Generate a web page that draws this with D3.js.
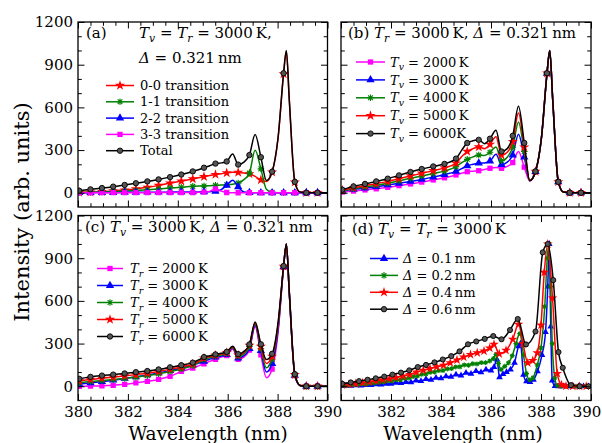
<!DOCTYPE html>
<html><head><meta charset="utf-8">
<script src="https://cdn.jsdelivr.net/npm/d3@7"></script>
<style>body{margin:0;background:#fff}svg{display:block}text{white-space:pre}</style>
</head><body>
<svg id="chart" width="602" height="443"></svg>
<script>
// ---------- data ----------
const wlGrid = [380.05, 380.5, 380.96, 381.41, 381.87, 382.32, 382.78, 383.23, 383.69, 384.14, 384.6, 384.83, 385.05, 385.28, 385.51, 385.74, 385.96, 386.2, 386.42, 386.65, 386.87, 387.1, 387.33, 387.55, 387.78, 388.02, 388.24, 388.35, 388.47, 388.69, 388.9, 389.15, 389.6, 390.0];
const markerWl = [380.05, 380.5, 380.96, 381.41, 381.87, 382.32, 382.78, 383.23, 383.69, 384.14, 384.6, 385.05, 385.51, 385.96, 386.42, 386.87, 387.33, 387.78, 388.24, 388.69, 389.15, 389.6];

// (a) transitions, Tv = Tr = 3000 K
const aTrans00 = [3, 5, 8, 13, 19, 27, 38, 52, 68, 82, 97, 105, 113, 121, 128, 134, 140, 144, 143, 139, 133, 115, 90, 80, 145, 385, 835, 995, 645, 75, 5, 0, 0, 0];
const aTrans11 = [2, 3, 5, 8, 12, 16, 21, 27, 33, 39, 45, 47, 48, 50, 52, 54, 56, 60, 68, 92, 138, 298, 168, 25, 3, 0, 0, 0, 0, 0, 0, 0, 0, 0];
const aTrans22 = [1, 1, 2, 2, 3, 3, 4, 4, 5, 5, 6, 6, 7, 8, 10, 22, 52, 88, 42, 5, 1, 0, 0, 0, 0, 0, 0, 0, 0, 0, 0, 0, 0, 0];
const aTrans33 = [0, 0, 1, 1, 1, 1, 1, 2, 2, 2, 2, 3, 4, 10, 28, 12, 2, 0, 0, 0, 0, 0, 0, 0, 0, 0, 0, 0, 0, 0, 0, 0, 0, 0];
const aTotal   = [14, 24, 33, 43, 55, 67, 80, 94, 110, 128, 150, 162, 176, 190, 205, 210, 220, 272, 198, 215, 265, 410, 250, 86, 148, 390, 840, 1000, 650, 77, 5, 0, 0, 0];

// (b) Tr = 3000 K, varying Tv
const bTv2000 = [5, 12, 20, 28, 38, 50, 62, 75, 90, 105, 125, 137, 148, 152, 155, 163, 172, 178, 172, 185, 212, 290, 180, 83, 147, 388, 838, 1000, 648, 77, 5, 0, 0, 0];
const bTv3000 = [14, 24, 33, 43, 55, 67, 80, 94, 110, 128, 150, 170, 190, 200, 208, 210, 222, 270, 198, 215, 265, 412, 250, 86, 148, 390, 840, 1000, 650, 77, 5, 0, 0, 0];
const bTv4000 = [13, 28, 41, 53, 67, 84, 102, 118, 135, 152, 183, 212, 235, 252, 265, 262, 285, 322, 225, 250, 320, 498, 290, 86, 150, 390, 840, 1000, 650, 77, 5, 0, 0, 0];
const bTv5000 = [17, 35, 50, 64, 80, 99, 118, 137, 155, 175, 208, 255, 290, 310, 322, 310, 340, 393, 265, 285, 360, 561, 320, 86, 150, 390, 840, 1000, 650, 77, 5, 0, 0, 0];
const bTv6000 = [22, 45, 62, 80, 99, 122, 146, 167, 185, 203, 240, 300, 350, 365, 372, 345, 380, 440, 290, 310, 400, 608, 350, 85, 150, 390, 840, 1000, 650, 77, 5, 0, 0, 0];

// (c) Tv = 3000 K, varying Tr
const cTr2000 = [0, 1, 3, 7, 14, 24, 35, 48, 70, 104, 128, 143, 158, 175, 190, 205, 215, 262, 190, 205, 255, 420, 220, 60, 120, 380, 838, 1000, 645, 75, 5, 0, 0, 0];
const cTr3000 = [14, 24, 33, 43, 55, 67, 80, 94, 110, 128, 150, 162, 176, 190, 205, 212, 222, 270, 198, 215, 265, 430, 250, 100, 160, 400, 840, 1000, 650, 77, 5, 0, 0, 0];
const cTr4000 = [25, 33, 40, 47, 55, 64, 75, 88, 104, 122, 145, 166, 188, 200, 212, 220, 230, 273, 210, 228, 280, 440, 265, 130, 190, 420, 842, 1000, 655, 80, 6, 0, 0, 0];
const cTr5000 = [38, 48, 56, 64, 72, 82, 92, 104, 120, 136, 156, 176, 197, 208, 218, 226, 236, 278, 218, 238, 288, 446, 280, 160, 210, 435, 843, 1000, 658, 82, 6, 0, 0, 0];
const cTr6000 = [52, 66, 75, 82, 90, 99, 107, 118, 133, 148, 166, 185, 205, 215, 224, 232, 242, 282, 226, 245, 294, 452, 295, 188, 228, 450, 845, 1000, 660, 85, 6, 0, 0, 0];

// (d) Tv = Tr = 3000 K, varying instrument width (wavelength, intensity)
const dDelta01 = [[380.0,2],[380.2,4],[380.4,3],[380.6,6],[380.8,5],[381.0,9],[381.2,8],[381.4,13],[381.6,12],[381.8,18],[382.0,17],[382.2,24],[382.4,22],[382.6,30],[382.8,28],[383.0,40],[383.2,37],[383.4,50],[383.6,46],[383.8,60],[384.0,56],[384.2,70],[384.4,66],[384.6,82],[384.8,76],[385.0,95],[385.2,88],[385.4,106],[385.6,98],[385.8,118],[386.0,110],[386.12,135],[386.24,188],[386.34,62],[386.48,85],[386.62,100],[386.78,118],[386.94,165],[387.1,280],[387.18,300],[387.3,80],[387.42,35],[387.56,30],[387.7,45],[387.86,105],[388.04,220],[388.18,380],[388.27,700],[388.33,1000],[388.39,420],[388.45,40],[388.56,2],[388.7,0],[388.9,0],[389.1,0],[389.3,0],[389.5,0],[389.7,0],[389.9,0]];
const dDelta02 = [[380.0,4],[380.17,6],[380.34,7],[380.51,10],[380.68,11],[380.85,15],[381.02,16],[381.19,21],[381.36,22],[381.53,28],[381.7,29],[381.87,36],[382.04,37],[382.21,45],[382.38,46],[382.55,55],[382.72,57],[382.89,68],[383.06,72],[383.23,84],[383.4,86],[383.57,98],[383.74,100],[383.91,110],[384.08,111],[384.25,122],[384.42,124],[384.59,136],[384.76,137],[384.93,150],[385.1,148],[385.27,158],[385.44,157],[385.61,166],[385.78,166],[385.95,178],[386.1,195],[386.2,224],[386.3,160],[386.4,118],[386.55,140],[386.7,165],[386.85,215],[387.0,300],[387.15,370],[387.3,220],[387.42,90],[387.55,45],[387.68,60],[387.85,150],[388.0,270],[388.15,560],[388.25,900],[388.31,1000],[388.38,700],[388.45,300],[388.55,60],[388.65,5],[388.8,0],[389.0,0],[389.2,0],[389.4,0],[389.6,0],[389.8,0],[390.0,0]];
const dDelta04 = [[380.05,10],[380.32,14],[380.59,19],[380.86,25],[381.13,31],[381.4,38],[381.67,45],[381.94,53],[382.21,62],[382.48,72],[382.75,83],[383.02,100],[383.29,112],[383.56,124],[383.83,136],[384.1,148],[384.37,165],[384.64,185],[384.91,205],[385.18,222],[385.45,235],[385.72,247],[385.95,268],[386.12,294],[386.33,228],[386.6,252],[386.87,330],[387.1,435],[387.28,300],[387.47,165],[387.67,180],[387.85,235],[388.0,430],[388.13,800],[388.27,1000],[388.46,620],[388.65,90],[388.82,10],[389.0,1],[389.27,0],[389.54,0],[389.81,0]];
const dDelta06 = [[380.05,18],[380.39,27],[380.72,36],[381.06,46],[381.39,56],[381.73,68],[382.06,82],[382.4,96],[382.73,112],[383.07,135],[383.4,150],[383.74,168],[384.07,188],[384.41,212],[384.74,245],[385.08,295],[385.41,315],[385.75,333],[386.09,353],[386.42,330],[386.76,395],[387.07,473],[387.4,294],[387.78,385],[388.07,941],[388.27,1000],[388.49,746],[388.7,240],[388.87,130],[389.2,8],[389.55,0],[389.9,0]];

// ticks
const xTickLabels = [380, 382, 384, 386, 388, 390];
const xMinorTicks = [380.5, 381, 381.5, 382.5, 383, 383.5, 384.5, 385, 385.5, 386.5, 387, 387.5, 388.5, 389, 389.5];
const yTickLabels = [0, 300, 600, 900, 1200];
const yMinorTicks = [100, 200, 400, 500, 700, 800, 1000, 1100];

// ---------- drawing ----------
const FONT = "'DejaVu Serif', serif";
const C = {red:'#ff0000', green:'#008000', blue:'#0000ff', mag:'#ff00ff', black:'#000000'};
const svg = d3.select('#chart');

const panels = {
  a:{x0:78, x1:327.5, y0:22, y1:207, yLab:true, xLab:false},
  b:{x0:341, x1:591, y0:22, y1:207, yLab:false, xLab:false},
  c:{x0:78, x1:327.5, y0:215.5, y1:400.5, yLab:true, xLab:true, xTitle:208},
  d:{x0:341, x1:591, y0:215.5, y1:400.5, yLab:false, xLab:true, hideFirst:true, xTitle:463}
};

function drawMarker(g, type, cx, cy, color, s) {
  s = s || 1;
  if (type === 'circle') {
    g.append('circle').attr('cx',cx).attr('cy',cy).attr('r',2.7*s).attr('fill','#555').attr('stroke','#000').attr('stroke-width',0.9);
  } else if (type === 'asterisk') {
    const r = 3.3*s;
    const p = d3.path();
    p.moveTo(cx-r,cy); p.lineTo(cx+r,cy);
    p.moveTo(cx,cy-r); p.lineTo(cx,cy+r);
    const q = r*0.72;
    p.moveTo(cx-q,cy-q); p.lineTo(cx+q,cy+q);
    p.moveTo(cx-q,cy+q); p.lineTo(cx+q,cy-q);
    g.append('path').attr('d',p.toString()).attr('stroke',color).attr('stroke-width',1.1).attr('fill','none');
  } else {
    const sym = {star:d3.symbolStar, triangle:d3.symbolTriangle, square:d3.symbolSquare}[type];
    const size = {star:32, triangle:30, square:28}[type]*s*s;
    g.append('path').attr('d', d3.symbol(sym, size)()).attr('transform',`translate(${cx},${cy})`).attr('fill',color);
  }
}

function richText(g, x, y, parts, size) {
  const t = g.append('text').attr('x',x).attr('y',y).attr('font-family',FONT).attr('font-size',size).attr('fill','#000');
  let shift = 0;
  parts.forEach(([s, st]) => {
    const ts = t.append('tspan').text(s);
    const target = st === 'sub' ? size*0.28 : 0;
    if (target !== shift) { ts.attr('dy', target - shift); shift = target; }
    if (st === 'i' || st === 'sub') ts.attr('font-style','italic');
    if (st === 'sub') ts.attr('font-size', size*0.72);
  });
  return t;
}

function drawPanel(key, seriesList, legend, titles) {
  const p = panels[key];
  const x = d3.scaleLinear().domain([380,390]).range([p.x0, p.x1]);
  const y = d3.scaleLinear().domain([-100,1200]).range([p.y1, p.y0]);
  const g = svg.append('g');
  const clipId = 'clip-' + key;
  g.append('clipPath').attr('id',clipId).append('rect')
    .attr('x',p.x0).attr('y',p.y0).attr('width',p.x1-p.x0).attr('height',p.y1-p.y0);

  const body = g.append('g').attr('clip-path',`url(#${clipId})`);
  const line = d3.line().x(d=>x(d[0])).y(d=>y(d[1])).curve(d3.curveMonotoneX);
  seriesList.forEach(s => {
    body.append('path').datum(s.pts).attr('d',line).attr('fill','none')
      .attr('stroke',s.color).attr('stroke-width',1.5).attr('stroke-linejoin','round');
    const mg = body.append('g');
    s.pts.filter(s.isMarker).forEach(d => drawMarker(mg, s.marker, x(d[0]), y(d[1]), s.color, s.ms));
  });

  // ticks on four sides
  const fmtX = d => (p.xLab && !(p.hideFirst && d === 380)) ? d : '';
  const fmtY = d => p.yLab ? d : '';
  const axes = [
    [d3.axisBottom(x).tickValues(xTickLabels).tickSize(-6.5).tickPadding(6).tickFormat(fmtX), `translate(0,${p.y1})`, 'xb'],
    [d3.axisBottom(x).tickValues(xMinorTicks).tickSize(-3.8).tickFormat(''), `translate(0,${p.y1})`],
    [d3.axisTop(x).tickValues(xTickLabels).tickSize(-6.5).tickFormat(''), `translate(0,${p.y0})`],
    [d3.axisTop(x).tickValues(xMinorTicks).tickSize(-3.8).tickFormat(''), `translate(0,${p.y0})`],
    [d3.axisLeft(y).tickValues(yTickLabels).tickSize(-6.5).tickPadding(5).tickFormat(fmtY), `translate(${p.x0},0)`],
    [d3.axisLeft(y).tickValues(yMinorTicks).tickSize(-3.8).tickFormat(''), `translate(${p.x0},0)`],
    [d3.axisRight(y).tickValues(yTickLabels).tickSize(-6.5).tickFormat(''), `translate(${p.x1},0)`],
    [d3.axisRight(y).tickValues(yMinorTicks).tickSize(-3.8).tickFormat(''), `translate(${p.x1},0)`]
  ];
  axes.forEach(([ax, tr, role]) => {
    const ag = g.append('g').attr('transform',tr).call(ax);
    ag.select('.domain').remove();
    ag.selectAll('line').attr('stroke','#000').attr('stroke-width',1);
    ag.selectAll('text').attr('font-family',FONT).attr('font-size',15).attr('fill','#000');
    if (role === 'xb' && key === 'd') {
      // keep the last label inside the picture
      ag.selectAll('.tick text').filter(d => d === 390).attr('dx', -4.5);
    }
  });
  g.append('rect').attr('x',p.x0).attr('y',p.y0).attr('width',p.x1-p.x0).attr('height',p.y1-p.y0)
    .attr('fill','none').attr('stroke','#000').attr('stroke-width',1.3);

  if (p.xTitle) {
    g.append('text').attr('font-family',FONT).attr('font-size',18.5).attr('text-anchor','middle')
      .attr('x',p.xTitle).attr('y',440).text('Wavelength (nm)');
  }

  // legend
  legend.rows.forEach((r, i) => {
    const cy = legend.y + i*legend.dy;
    const s = seriesList.find(q => q.id === r.id);
    g.append('line').attr('x1',legend.lx1).attr('x2',legend.lx2).attr('y1',cy).attr('y2',cy)
      .attr('stroke',s.color).attr('stroke-width',1.5);
    drawMarker(g, s.marker, (legend.lx1+legend.lx2)/2, cy, s.color, 1);
    richText(g, legend.tx, cy+4.6, r.text, 13);
  });
  titles.forEach(t => richText(g, t.x, t.y, t.parts, 15));
}

const onGrid = v => wlGrid.map((w,i) => [w, v[i]]);
const gridMarker = d => markerWl.includes(d[0]);
const allMarker = () => true;

// (a)
drawPanel('a', [
  {id:'00', pts:onGrid(aTrans00), color:C.red, marker:'star', isMarker:gridMarker},
  {id:'11', pts:onGrid(aTrans11), color:C.green, marker:'asterisk', isMarker:gridMarker},
  {id:'22', pts:onGrid(aTrans22), color:C.blue, marker:'triangle', isMarker:gridMarker},
  {id:'33', pts:onGrid(aTrans33), color:C.mag, marker:'square', isMarker:gridMarker},
  {id:'tot', pts:onGrid(aTotal), color:C.black, marker:'circle', isMarker:gridMarker}
], {y:85.5, dy:16.3, lx1:106, lx2:134, tx:140, rows:[
  {id:'00', text:[['0-0 transition','r']]},
  {id:'11', text:[['1-1 transition','r']]},
  {id:'22', text:[['2-2 transition','r']]},
  {id:'33', text:[['3-3 transition','r']]},
  {id:'tot', text:[['Total','r']]}
]}, [
  {x:86, y:38, parts:[['(a)','r']]},
  {x:139, y:38, parts:[['T','i'],['v','sub'],[' = ','r'],['T','i'],['r','sub'],[' = 3000\u2009K,','r']]},
  {x:139, y:62.5, parts:[['\u0394','i'],[' = 0.321\u2009nm','r']]}
]);

// (b)
drawPanel('b', [
  {id:'2', pts:onGrid(bTv2000), color:C.mag, marker:'square', isMarker:gridMarker},
  {id:'3', pts:onGrid(bTv3000), color:C.blue, marker:'triangle', isMarker:gridMarker},
  {id:'4', pts:onGrid(bTv4000), color:C.green, marker:'asterisk', isMarker:gridMarker},
  {id:'5', pts:onGrid(bTv5000), color:C.red, marker:'star', isMarker:gridMarker},
  {id:'6', pts:onGrid(bTv6000), color:C.black, marker:'circle', isMarker:gridMarker}
], {y:62, dy:17.9, lx1:356, lx2:385, tx:390, rows:[
  {id:'2', text:[['T','i'],['v','sub'],[' = 2000\u2009K','r']]},
  {id:'3', text:[['T','i'],['v','sub'],[' = 3000\u2009K','r']]},
  {id:'4', text:[['T','i'],['v','sub'],[' = 4000\u2009K','r']]},
  {id:'5', text:[['T','i'],['v','sub'],[' = 5000\u2009K','r']]},
  {id:'6', text:[['T','i'],['v','sub'],[' = 6000K','r']]}
]}, [
  {x:348, y:38, parts:[['(b) ','r'],['T','i'],['r','sub'],[' = 3000\u2009K, ','r'],['\u0394','i'],[' = 0.321\u2009nm','r']]}
]);

// (c)
drawPanel('c', [
  {id:'2', pts:onGrid(cTr2000), color:C.mag, marker:'square', isMarker:gridMarker},
  {id:'3', pts:onGrid(cTr3000), color:C.blue, marker:'triangle', isMarker:gridMarker},
  {id:'4', pts:onGrid(cTr4000), color:C.green, marker:'asterisk', isMarker:gridMarker},
  {id:'5', pts:onGrid(cTr5000), color:C.red, marker:'star', isMarker:gridMarker},
  {id:'6', pts:onGrid(cTr6000), color:C.black, marker:'circle', isMarker:gridMarker}
], {y:268.5, dy:17, lx1:97, lx2:123, tx:130, rows:[
  {id:'2', text:[['T','i'],['r','sub'],[' = 2000\u2009K','r']]},
  {id:'3', text:[['T','i'],['r','sub'],[' = 3000\u2009K','r']]},
  {id:'4', text:[['T','i'],['r','sub'],[' = 4000\u2009K','r']]},
  {id:'5', text:[['T','i'],['r','sub'],[' = 5000\u2009K','r']]},
  {id:'6', text:[['T','i'],['r','sub'],[' = 6000\u2009K','r']]}
]}, [
  {x:85, y:231.5, parts:[['(c) ','r'],['T','i'],['v','sub'],[' = 3000\u2009K, ','r'],['\u0394','i'],[' = 0.321\u2009nm','r']]}
]);

// (d)
drawPanel('d', [
  {id:'1', pts:dDelta01, color:C.blue, marker:'triangle', isMarker:allMarker, ms:0.8},
  {id:'2', pts:dDelta02, color:C.green, marker:'asterisk', isMarker:allMarker, ms:0.75},
  {id:'4', pts:dDelta04, color:C.red, marker:'star', isMarker:allMarker, ms:0.95},
  {id:'6', pts:dDelta06, color:C.black, marker:'circle', isMarker:allMarker, ms:0.95}
], {y:258.5, dy:16.9, lx1:370, lx2:398, tx:403, rows:[
  {id:'1', text:[['\u0394','i'],[' = 0.1\u2009nm','r']]},
  {id:'2', text:[['\u0394','i'],[' = 0.2\u2009nm','r']]},
  {id:'4', text:[['\u0394','i'],[' = 0.4\u2009nm','r']]},
  {id:'6', text:[['\u0394','i'],[' = 0.6\u2009nm','r']]}
]}, [
  {x:352, y:233.5, parts:[['(d) ','r'],['T','i'],['v','sub'],[' = ','r'],['T','i'],['r','sub'],[' = 3000\u2009K','r']]}
]);

// y-axis title
svg.append('text').attr('font-family',FONT).attr('font-size',21).attr('text-anchor','middle')
  .attr('transform','translate(29,212) rotate(-90)').text('Intensity (arb. units)');
</script>
</body></html>
